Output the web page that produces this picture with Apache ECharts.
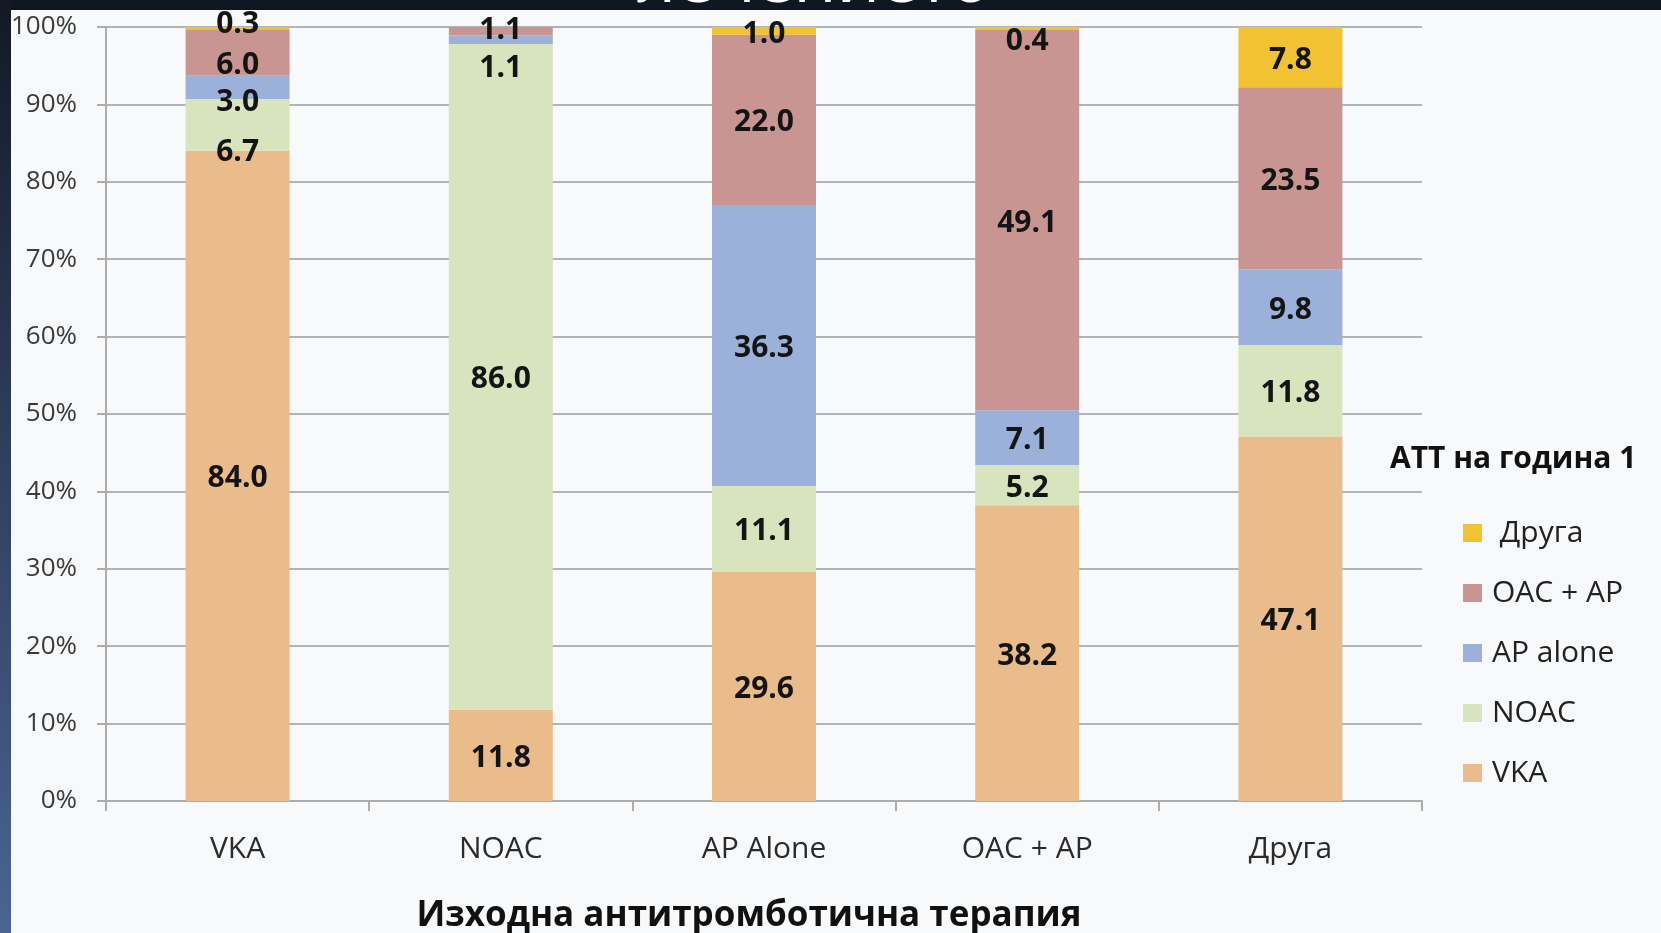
<!DOCTYPE html>
<html>
<head>
<meta charset="utf-8">
<script src="https://cdn.jsdelivr.net/npm/echarts@6/dist/echarts.min.js"></script>
<style>
  html, body { margin: 0; padding: 0; background: #f8f9fb; }
  #chart { width: 1661px; height: 933px; }
</style>
</head>
<body>
<div id="chart"></div>
<script>
// Baseline antithrombotic therapy (categories) vs. therapy at year 1 (stacked shares, %)
const categories = ['VKA', 'NOAC', 'AP Alone', 'OAC + AP', 'Друга'];
const seriesNames = ['VKA', 'NOAC', 'AP alone', 'OAC + AP', 'Друга'];
const vkaValues = [84.0, 11.8, 29.6, 38.2, 47.1];
const noacValues = [6.7, 86.0, 11.1, 5.2, 11.8];
const apAloneValues = [3.0, 1.1, 36.3, 7.1, 9.8];
const oacApValues = [6.0, 1.1, 22.0, 49.1, 23.5];
const otherValues = [0.3, 0, 1.0, 0.4, 7.8];
const yTickValues = [0, 10, 20, 30, 40, 50, 60, 70, 80, 90, 100];
const legendOrder = ['Друга', 'OAC + AP', 'AP alone', 'NOAC', 'VKA'];

const FONT = '"Open Sans", "Noto Sans", sans-serif';
const colors = ['#eabb8b', '#d8e4bd', '#9bb1d9', '#c99593', '#f1c232'];

// vertical nudges (px) for value labels; thin segments get pushed apart
const labelNudge = [
  [3, 3, 3, 3, 3],
  [28, 3, 3, 3, 3],
  [15, 29, 3, 3, 3],
  [13, -1, 3, 3, 3],
  [-4, 3, 4, 13, 3]
];

const valueSets = [vkaValues, noacValues, apAloneValues, oacApValues, otherValues];

const series = valueSets.map((vals, si) => ({
  name: seriesNames[si],
  type: 'bar',
  stack: 'att',
  barWidth: '39.5%',
  itemStyle: { color: colors[si] },
  label: {
    show: true,
    position: 'inside',
    fontFamily: FONT,
    fontWeight: 'bold',
    fontSize: 30,
    color: '#141414',
    formatter: p => (p.value > 0 ? p.value.toFixed(1) : '')
  },
  labelLayout: p => ({ dy: labelNudge[si][p.dataIndex], hideOverlap: false }),
  data: vals
}));

const chart = echarts.init(document.getElementById('chart'), null, { renderer: 'canvas' });

chart.setOption({
  backgroundColor: '#f8f9fb',
  animation: false,
  grid: { left: 106, right: 239, top: 27, bottom: 132, containLabel: false },
  xAxis: {
    type: 'category',
    data: categories,
    axisLine: { lineStyle: { color: '#acacac', width: 2 } },
    axisTick: { show: true, length: 10, lineStyle: { color: '#acacac', width: 2 } },
    axisLabel: { fontFamily: FONT, fontSize: 30, color: '#2b2b2b', margin: 33 }
  },
  yAxis: {
    type: 'value',
    min: 0,
    max: 100,
    interval: 10,
    axisLine: { show: true, lineStyle: { color: '#acacac', width: 2 } },
    axisTick: { show: true, length: 9, lineStyle: { color: '#acacac', width: 2 } },
    splitLine: { lineStyle: { color: '#b4b4b4', width: 2 } },
    axisLabel: {
      fontFamily: FONT,
      fontSize: 26,
      color: '#3a3a3a',
      margin: 29,
      formatter: v => (yTickValues.indexOf(v) >= 0 ? v + '%' : '')
    }
  },
  legend: {
    orient: 'vertical',
    left: 1463,
    top: 518,
    padding: 0,
    icon: 'rect',
    itemWidth: 19,
    itemHeight: 18,
    itemGap: 30,
    data: legendOrder,
    formatter: n => (n === 'Друга' ? ' ' + n : n),
    textStyle: { fontFamily: FONT, fontSize: 30, lineHeight: 30, color: '#222', padding: [0, 0, 0, 5] }
  },
  graphic: [
    {
      type: 'rect',
      silent: true,
      shape: { x: 0, y: 0, width: 1661, height: 10 },
      style: { fill: '#111722' }
    },
    {
      type: 'rect',
      silent: true,
      shape: { x: 0, y: 0, width: 11, height: 933 },
      style: {
        fill: new echarts.graphic.LinearGradient(0, 0, 0, 1, [
          { offset: 0, color: '#121925' },
          { offset: 0.45, color: '#2d3c5a' },
          { offset: 1, color: '#4b6493' }
        ])
      }
    },
    {
      type: 'text',
      silent: true,
      x: 814,
      y: -17,
      style: {
        text: 'лечението',
        font: '68px ' + FONT,
        fill: '#ffffff',
        align: 'center',
        verticalAlign: 'middle'
      }
    },
    {
      type: 'text',
      silent: true,
      x: 1390,
      y: 459,
      style: {
        text: 'АТТ на година 1',
        font: 'bold 30px ' + FONT,
        fill: '#111',
        align: 'left',
        verticalAlign: 'middle'
      }
    },
    {
      type: 'text',
      silent: true,
      x: 749,
      y: 916,
      style: {
        text: 'Изходна антитромботична терапия',
        font: 'bold 35px ' + FONT,
        fill: '#111',
        align: 'center',
        verticalAlign: 'middle'
      }
    }
  ],
  series: series
});
</script>
</body>
</html>
